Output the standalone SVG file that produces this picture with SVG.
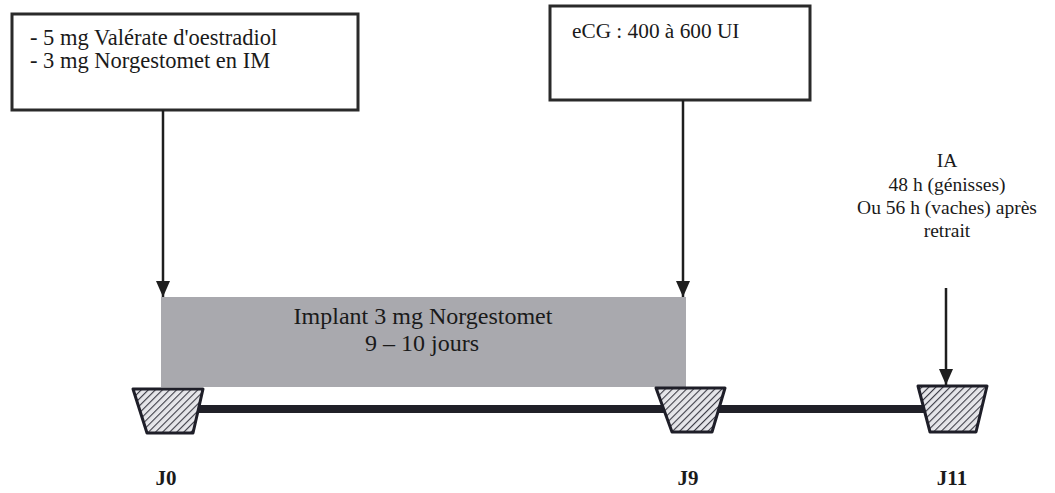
<svg xmlns="http://www.w3.org/2000/svg" width="1055" height="493" viewBox="0 0 1055 493">
<style>
.t{font-family:"Liberation Serif","Times New Roman",serif;font-size:19.5px;fill:#1a1a1a}
.c{text-anchor:middle}
.b{font-weight:bold;font-size:21px}
.box{fill:#fff;stroke:#2a2a2a;stroke-width:3}
.trap{fill:url(#hatch);stroke:#1e1e28;stroke-width:3;stroke-linejoin:round}
.arr{stroke:#1e1e1e;stroke-width:2.5;fill:none;marker-end:url(#ah)}
</style>
<defs>
<pattern id="hatch" patternUnits="userSpaceOnUse" width="5" height="5" patternTransform="rotate(45)">
<rect width="5" height="5" fill="#e6e6ea"/>
<line x1="0" y1="0" x2="0" y2="5" stroke="#3a3a44" stroke-width="2.2"/>
</pattern>
<marker id="ah" markerWidth="16" markerHeight="14" refX="16" refY="7" orient="auto" markerUnits="userSpaceOnUse" viewBox="0 0 16 14">
<path d="M0,0 L16,7 L0,14 Z" fill="#1e1e1e"/>
</marker>
</defs>
<rect width="1055" height="493" fill="#fff"/>
<g id="implant">
<rect x="161" y="297" width="525" height="90" fill="#a9a9ae"/>
<text class="t c" x="423" y="324" style="font-size:24px">Implant 3 mg Norgestomet</text>
<text class="t c" x="422" y="351" style="font-size:24px">9 – 10 jours</text>
</g>
<g id="timeline">
<rect x="168" y="405" width="784" height="8" fill="#202028"/>
</g>
<g id="box1">
<rect class="box" x="12" y="14" width="346" height="96"/>
<text class="t" x="30" y="45" style="font-size:22.5px">- 5 mg Valérate d'oestradiol</text>
<text class="t" x="30" y="68" style="font-size:22.5px">- 3 mg Norgestomet en IM</text>
</g>
<g id="box2">
<rect class="box" x="550" y="6" width="260" height="94"/>
<text class="t" x="572" y="38" style="font-size:21.3px">eCG : 400 à 600 UI</text>
</g>
<g id="ia">
<text class="t c" x="947" y="167">IA</text>
<text class="t c" x="947" y="191">48 h (génisses)</text>
<text class="t c" x="947" y="214">Ou 56 h (vaches) après</text>
<text class="t c" x="947" y="237">retrait</text>
</g>
<g id="j0">
<path class="trap" d="M133,389 L203,389 L193,433 L147,433 Z"/>
<text class="t c b" x="166" y="485">J0</text>
</g>
<g id="j9">
<path class="trap" d="M656,388 L725,388 L712,432 L672,432 Z"/>
<text class="t c b" x="688" y="485">J9</text>
</g>
<g id="j11">
<path class="trap" d="M918,386 L987,386 L976,432 L930,432 Z"/>
<text class="t c b" x="952" y="485">J11</text>
</g>
<g id="connectors">
<line class="arr" x1="163" y1="110" x2="163" y2="297"/>
<line class="arr" x1="683" y1="100" x2="683" y2="297"/>
<line class="arr" x1="946" y1="288" x2="946" y2="385"/>
</g>
</svg>
